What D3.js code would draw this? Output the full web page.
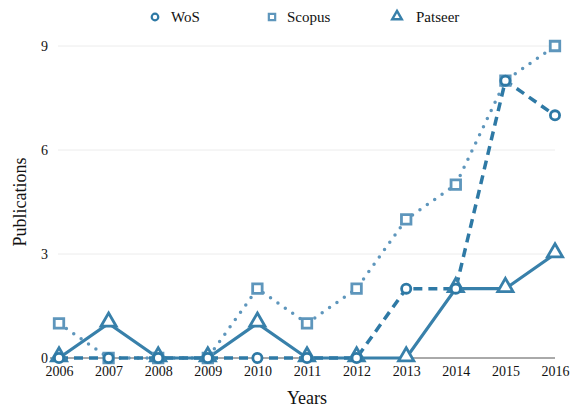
<!DOCTYPE html>
<html><head><meta charset="utf-8">
<script src="https://cdn.jsdelivr.net/npm/d3@7"></script>
<style>body{margin:0;background:#fff;}svg{display:block;font-family:"Liberation Serif","DejaVu Serif",serif;}</style>
</head><body><svg id="c" width="571" height="407"></svg>
<script>
const years = [2006,2007,2008,2009,2010,2011,2012,2013,2014,2015,2016];
const wos = [0,0,0,0,0,0,0,2,2,8,7];
const scopus = [1,0,0,0,2,1,2,4,5,8,9];
const patseer = [0,1,0,0,1,0,0,0,2,2,3];
const yTicks = [0,3,6,9];
const seriesNames = ["WoS","Scopus","Patseer"];

const svg = d3.select("#c");
const x = d3.scaleLinear().domain([2006,2016]).range([59,555]);
const y = d3.scaleLinear().domain([0,9]).range([358,46]);

svg.append("g").selectAll("line").data(yTicks.filter(d=>d>0)).join("line")
  .attr("x1",58).attr("x2",555).attr("y1",d=>y(d)).attr("y2",d=>y(d))
  .attr("stroke","#ececec").attr("stroke-width",1);
svg.append("line").attr("x1",50).attr("x2",555).attr("y1",y(0)).attr("y2",y(0))
  .attr("stroke","#555").attr("stroke-width",1);

const yAxis = d3.axisLeft(y).tickValues(yTicks).tickSize(0).tickPadding(0);
const gy = svg.append("g").attr("transform","translate(48,0)").call(yAxis);
gy.select(".domain").remove();
gy.selectAll("text").attr("font-size",14).attr("fill","#111").attr("font-family","Liberation Serif, serif");
const xAxis = d3.axisBottom(x).tickValues(years).tickFormat(d3.format("d")).tickSize(0).tickPadding(0);
const gx = svg.append("g").attr("transform","translate(0,366)").call(xAxis);
gx.select(".domain").remove();
gx.selectAll("text").attr("font-size",14).attr("fill","#111").attr("font-family","Liberation Serif, serif");

svg.append("text").attr("x",307).attr("y",404).attr("text-anchor","middle")
  .attr("font-size",18).attr("fill","#111").text("Years");
svg.append("text").attr("transform","translate(26,202) rotate(-90)").attr("text-anchor","middle")
  .attr("font-size",18).attr("fill","#111").text("Publications");

const colors = {WoS:"#2e79a5", Scopus:"#5e96bc", Patseer:"#3880aa"};
const line = d3.line().x((d,i)=>x(years[i])).y(d=>y(d));

svg.append("path").attr("d",line(scopus)).attr("fill","none").attr("stroke",colors.Scopus)
  .attr("stroke-width",3.5).attr("stroke-linecap","round").attr("stroke-dasharray","0 9");
svg.append("path").attr("d",line(patseer)).attr("fill","none").attr("stroke",colors.Patseer)
  .attr("stroke-width",3.2);
svg.append("path").attr("d",line(wos)).attr("fill","none").attr("stroke",colors.WoS)
  .attr("stroke-width",3.5).attr("stroke-dasharray","9 6");

const sq = d3.symbol().type(d3.symbolSquare).size(90);
const tri = d3.symbol().type(d3.symbolTriangle).size(100);

svg.append("g").selectAll("path").data(scopus).join("path")
  .attr("d",sq).attr("transform",(d,i)=>`translate(${x(years[i])},${y(d)})`)
  .attr("fill","#fff").attr("stroke",colors.Scopus).attr("stroke-width",2.8);
svg.append("g").selectAll("path").data(patseer).join("path")
  .attr("d",tri).attr("transform",(d,i)=>`translate(${x(years[i])},${y(d)-1.5})`)
  .attr("fill","#fff").attr("stroke",colors.Patseer).attr("stroke-width",2.8);
svg.append("g").selectAll("circle").data(wos).join("circle")
  .attr("cx",(d,i)=>x(years[i])).attr("cy",d=>y(d)).attr("r",4.6)
  .attr("fill","#fff").attr("stroke",colors.WoS).attr("stroke-width",2.8);

const leg = [{n:"WoS",mx:155,tx:171},{n:"Scopus",mx:272,tx:287},{n:"Patseer",mx:397,tx:416}];
const lg = svg.append("g");
leg.forEach(l=>{
  if(l.n==="WoS") lg.append("circle").attr("cx",l.mx).attr("cy",17).attr("r",3.3)
    .attr("fill","#fff").attr("stroke",colors.WoS).attr("stroke-width",2.2);
  else if(l.n==="Scopus") lg.append("path").attr("d",d3.symbol().type(d3.symbolSquare).size(40)())
    .attr("transform",`translate(${l.mx},17)`).attr("fill","#fff").attr("stroke",colors.Scopus).attr("stroke-width",2.2);
  else lg.append("path").attr("d",d3.symbol().type(d3.symbolTriangle).size(40)())
    .attr("transform",`translate(${l.mx},16.5)`).attr("fill","#fff").attr("stroke",colors.Patseer).attr("stroke-width",2.4);
  lg.append("text").attr("x",l.tx).attr("y",22).attr("font-size",15).attr("fill","#111").text(l.n);
});
</script></body></html>
